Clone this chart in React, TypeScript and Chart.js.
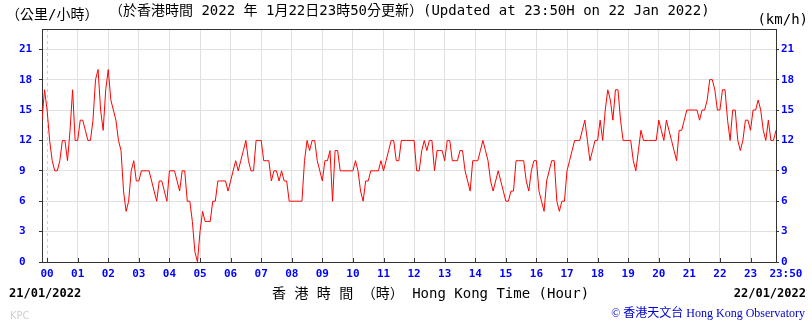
import React, { useEffect, useRef } from 'react';
import { Chart, registerables } from 'chart.js';

Chart.register(...registerables);

// ---- data (km/h), 5-minute samples starting at 23:50 of the previous day ----
const START_MINUTE = -10;
const STEP_MINUTES = 5;
const END_MINUTE = 1430;

const windLead = [14, 17]; // 23:50, 23:55
const windHour00 = [15, 12, 10, 9, 9, 10, 12, 12, 10, 13, 17, 12];
const windHour01 = [12, 14, 14, 13, 12, 12, 14, 18, 19, 15, 13, 17];
const windHour02 = [19, 16, 15, 14, 12, 11, 7, 5, 6, 9, 10, 8];
const windHour03 = [8, 9, 9, 9, 9, 8, 7, 6, 8, 8, 7, 6];
const windHour04 = [9, 9, 9, 8, 7, 9, 9, 6, 6, 4, 1, 0];
const windHour05 = [3, 5, 4, 4, 4, 6, 6, 8, 8, 8, 8, 7];
const windHour06 = [8, 9, 10, 9, 10, 11, 12, 10, 9, 9, 12, 12];
const windHour07 = [12, 10, 10, 10, 8, 9, 9, 8, 9, 8, 8, 6];
const windHour08 = [6, 6, 6, 6, 6, 10, 12, 11, 12, 12, 10, 9];
const windHour09 = [8, 10, 10, 11, 6, 11, 11, 9, 9, 9, 9, 9];
const windHour10 = [9, 10, 9, 7, 6, 8, 8, 9, 9, 9, 9, 10];
const windHour11 = [9, 10, 11, 12, 12, 10, 10, 12, 12, 12, 12, 12];
const windHour12 = [12, 9, 9, 11, 12, 11, 12, 12, 9, 11, 11, 11];
const windHour13 = [10, 12, 12, 10, 10, 10, 11, 11, 9, 8, 7, 10];
const windHour14 = [10, 10, 11, 12, 11, 10, 8, 7, 8, 9, 8, 7];
const windHour15 = [6, 6, 7, 7, 10, 10, 10, 10, 8, 7, 9, 10];
const windHour16 = [10, 7, 6, 5, 8, 9, 10, 10, 6, 5, 6, 6];
const windHour17 = [9, 10, 11, 12, 12, 12, 13, 14, 12, 10, 11, 12];
const windHour18 = [12, 14, 12, 15, 17, 16, 14, 17, 17, 14, 12, 12];
const windHour19 = [12, 12, 10, 9, 11, 13, 12, 12, 12, 12, 12, 12];
const windHour20 = [14, 13, 12, 14, 13, 12, 11, 10, 13, 13, 14, 15];
const windHour21 = [15, 15, 15, 15, 14, 15, 15, 16, 18, 18, 17, 15];
const windHour22 = [15, 17, 17, 14, 12, 15, 15, 12, 11, 12, 14, 14];
const windHour23 = [13, 15, 15, 16, 15, 13, 12, 14, 12, 12, 13]; // to 23:50

const hourLabels = ['00', '01', '02', '03', '04', '05', '06', '07', '08', '09', '10', '11',
  '12', '13', '14', '15', '16', '17', '18', '19', '20', '21', '22', '23'];
const endLabel = '23:50';
const yTickValues = [0, 3, 6, 9, 12, 15, 18, 21];
const Y_MAX = 23;

const BLUE = '#0000ff';
const GRID = '#e0e0e0';
const AXIS = '#333333';
const MONO = '"DejaVu Sans Mono", "Noto Sans CJK TC", monospace';

export default function App() {
  const ref = useRef<HTMLCanvasElement | null>(null);

  useEffect(() => {
    document.body.style.margin = '0';
    const values = [
      ...windLead, ...windHour00, ...windHour01, ...windHour02, ...windHour03, ...windHour04,
      ...windHour05, ...windHour06, ...windHour07, ...windHour08, ...windHour09, ...windHour10,
      ...windHour11, ...windHour12, ...windHour13, ...windHour14, ...windHour15, ...windHour16,
      ...windHour17, ...windHour18, ...windHour19, ...windHour20, ...windHour21, ...windHour22,
      ...windHour23,
    ];
    const points = values.map((v, i) => ({ x: START_MINUTE + i * STEP_MINUTES, y: v }));
    const xTickValues = [...hourLabels.map((_, i) => i * 60), END_MINUTE];

    const decor = {
      id: 'hkoDecor',
      beforeDatasetsDraw(chart: any) {
        const { ctx, chartArea } = chart;
        const x = Math.round(chart.scales.x.getPixelForValue(0)) + 0.5;
        ctx.save();
        ctx.strokeStyle = '#cfcfcf';
        ctx.lineWidth = 1;
        ctx.setLineDash([3, 3]);
        ctx.beginPath();
        ctx.moveTo(x, chartArea.top);
        ctx.lineTo(x, chartArea.bottom);
        ctx.stroke();
        ctx.restore();
      },
      afterDraw(chart: any) {
        const { ctx, chartArea } = chart;
        ctx.save();
        ctx.strokeStyle = AXIS;
        ctx.lineWidth = 1;
        ctx.beginPath();
        const top = Math.round(chartArea.top) + 0.5;
        ctx.moveTo(chartArea.left, top);
        ctx.lineTo(chartArea.right, top);
        hourLabels.forEach((_, i) => {
          const x = Math.round(chart.scales.x.getPixelForValue(i * 60)) + 0.5;
          ctx.moveTo(x, chartArea.bottom);
          ctx.lineTo(x, chartArea.bottom - 4);
        });
        ctx.stroke();
        ctx.restore();
      },
    };

    const yTickFont = { family: MONO, size: 11, weight: 'bold' as const };

    const chart = new Chart(ref.current as HTMLCanvasElement, {
      type: 'line',
      data: {
        datasets: [{
          data: points,
          borderColor: '#ff0000',
          borderWidth: 1,
          pointRadius: 0,
          tension: 0,
          fill: false,
          yAxisID: 'y',
        }],
      },
      options: {
        animation: false,
        responsive: false,
        maintainAspectRatio: false,
        events: [],
        layout: { padding: { left: 19, top: 29, right: 0, bottom: 0 } },
        plugins: { legend: { display: false }, tooltip: { enabled: false }, title: { display: false } },
        scales: {
          x: {
            type: 'linear',
            min: START_MINUTE,
            max: END_MINUTE,
            afterBuildTicks: (s: any) => { s.ticks = xTickValues.map((v) => ({ value: v })); },
            afterFit: (s: any) => { s.height = 63; },
            grid: {
              color: (c: any) => (c.tick && (c.tick.value === 0 || c.tick.value === END_MINUTE) ? 'rgba(0,0,0,0)' : GRID),
              drawTicks: false,
            },
            border: { display: true, color: AXIS },
            ticks: {
              autoSkip: false,
              maxRotation: 0,
              padding: 6,
              color: BLUE,
              font: yTickFont,
              callback: (v: any) => (v === END_MINUTE ? '   ' + endLabel : hourLabels[Math.round(v / 60)]),
            },
          },
          y: {
            position: 'left',
            min: 0,
            max: Y_MAX,
            afterBuildTicks: (s: any) => { s.ticks = yTickValues.map((v) => ({ value: v })); },
            afterFit: (s: any) => { s.width = 23; },
            grid: {
              color: (c: any) => (c.tick && c.tick.value === 0 ? 'rgba(0,0,0,0)' : GRID),
              tickColor: AXIS,
              tickLength: 3,
            },
            border: { display: true, color: AXIS },
            ticks: { crossAlign: 'far', padding: 2, color: BLUE, font: yTickFont },
          },
          y2: {
            position: 'right',
            min: 0,
            max: Y_MAX,
            afterBuildTicks: (s: any) => { s.ticks = yTickValues.map((v) => ({ value: v })); },
            afterFit: (s: any) => { s.width = 36; },
            grid: { drawOnChartArea: false, tickColor: AXIS, tickLength: 3 },
            border: { display: true, color: AXIS },
            ticks: { padding: 2, color: BLUE, font: yTickFont },
          },
        },
      } as any,
      plugins: [decor],
    });
    return () => chart.destroy();
  }, []);

  const abs = (s: React.CSSProperties): React.CSSProperties => ({
    position: 'absolute', whiteSpace: 'pre', lineHeight: 1, margin: 0, ...s,
  });

  return (
    <div style={{ position: 'relative', width: 812, height: 325, background: '#fff', overflow: 'hidden' }}>
      <canvas ref={ref} width={812} height={325} style={{ display: 'block', width: 812, height: 325 }} />
      <div style={abs({ left: 6, top: 7, fontFamily: MONO, fontSize: 14, color: '#000' })}>（公里/小時）</div>
      <div style={abs({ left: 109, top: 3, fontFamily: MONO, fontSize: 14, color: '#000' })}>（於香港時間 2022 年 1月22日23時50分更新）(Updated at 23:50H on 22 Jan 2022)</div>
      <div style={abs({ right: 4, top: 12, fontFamily: MONO, fontSize: 14, color: '#000' })}>(km/h)</div>
      <div style={abs({ left: 9, top: 287, fontFamily: MONO, fontSize: 12, fontWeight: 'bold', color: '#000' })}>21/01/2022</div>
      <div style={abs({ left: 272, top: 286, fontFamily: MONO, fontSize: 14, color: '#000' })}>香 港 時 間 （時） Hong Kong Time (Hour)</div>
      <div style={abs({ right: 6, top: 287, fontFamily: MONO, fontSize: 12, fontWeight: 'bold', color: '#000' })}>22/01/2022</div>
      <div style={abs({ left: 10, top: 311, fontFamily: '"DejaVu Sans", sans-serif', fontSize: 10, color: '#d0d0d0' })}>KPC</div>
      <div style={abs({ right: 7, top: 307, fontFamily: '"Liberation Serif", "Noto Sans CJK TC", serif', fontSize: 12, color: '#0000cc' })}>© 香港天文台 Hong Kong Observatory</div>
    </div>
  );
}
